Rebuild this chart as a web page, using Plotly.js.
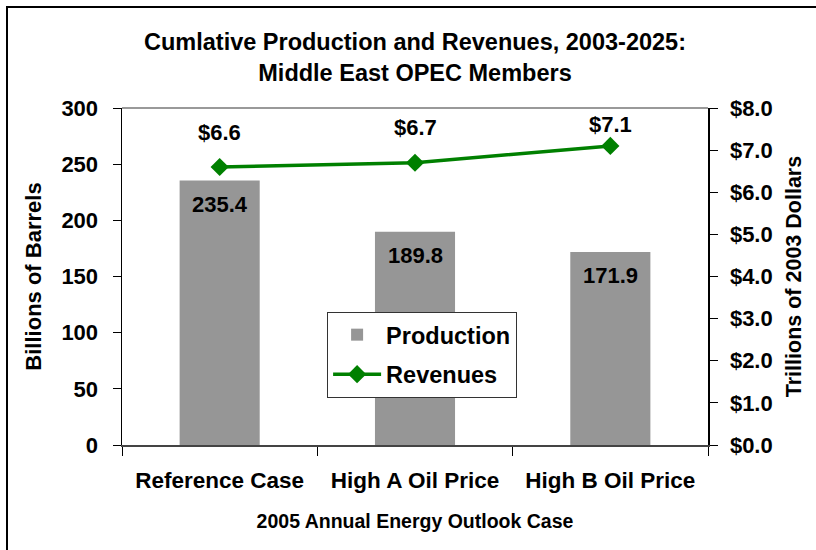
<!DOCTYPE html>
<html><head><meta charset="utf-8">
<script src="https://cdn.plot.ly/plotly-3.0.1.min.js"></script>
<style>
html,body{margin:0;padding:0;background:#fff;overflow:hidden}
#chart{width:816px;height:550px;position:absolute;left:0;top:0}
#frame{position:absolute;left:6px;top:6px;width:900px;height:900px;border:2px solid #000;pointer-events:none}
</style></head><body>
<div id="chart"></div><div id="frame"></div>
<script>
// ---- data ----
const categories = ['Reference Case', 'High A Oil Price', 'High B Oil Price'];
const production = [235.4, 189.8, 171.9];   // billions of barrels
const revenues = [6.6, 6.7, 7.1];           // trillions of 2003 dollars
const leftTicks = [0, 50, 100, 150, 200, 250, 300];
const rightTicks = [0, 1, 2, 3, 4, 5, 6, 7, 8];
const rightTickText = ['$0.0', '$1.0', '$2.0', '$3.0', '$4.0', '$5.0', '$6.0', '$7.0', '$8.0'];

// ---- styling ----
const FONT = '"Liberation Sans", Arial, sans-serif';
const revLabelLift = [34, 35, 21];
const barLabelDrop = -24;

const bold = (size) => ({family: FONT, size: size, color: '#000', weight: 'bold'});

const traces = [
  {
    type: 'bar', name: 'Production', x: categories, y: production,
    marker: {color: '#969696', line: {width: 0}}, width: 0.41,
    legendgroup: 'a', hoverinfo: 'skip'
  },
  {
    type: 'scatter', mode: 'lines+markers', name: 'Revenues', x: categories, y: revenues,
    yaxis: 'y2', line: {color: '#008000', width: 3.5},
    marker: {symbol: 'diamond', size: 14, color: '#008000'},
    legendgroup: 'b', hoverinfo: 'skip'
  }
];

const annotations = [];
categories.forEach((c, i) => {
  annotations.push({xref: 'x', yref: 'y', x: c, y: production[i], yshift: barLabelDrop,
    text: production[i].toFixed(1), showarrow: false, font: bold(22)});
  annotations.push({xref: 'x', yref: 'y2', x: c, y: revenues[i], yshift: revLabelLift[i],
    text: '$' + revenues[i].toFixed(1), showarrow: false, font: bold(22)});
});

const layout = {
  width: 816, height: 550,
  margin: {l: 122, r: 108, t: 108, b: 105, pad: 0},
  paper_bgcolor: '#fff', plot_bgcolor: '#fff',
  font: {family: FONT},
  title: {
    text: 'Cumlative Production and Revenues, 2003-2025:<br>Middle East OPEC Members',
    font: bold(23.5), x: 0.5, xref: 'paper', y: 1 - 50 / 550, yref: 'container', yanchor: 'middle'
  },
  showlegend: true,
  legend: {
    x: 0.35, y: 0.395, xanchor: 'left', yanchor: 'top',
    bgcolor: '#fff', bordercolor: '#333', borderwidth: 1,
    font: bold(23.5), traceorder: 'grouped', tracegroupgap: 6, itemwidth: 48
  },
  xaxis: {
    type: 'category', range: [-0.5, 2.5], tickson: 'boundaries',
    ticks: 'outside', ticklen: 9, tickwidth: 1, tickcolor: '#000',
    showline: true, linecolor: '#444', linewidth: 2,
    tickfont: bold(22.5), ticklabelstandoff: 14,
    title: {text: '2005 Annual Energy Outlook Case', font: bold(19.5), standoff: 22},
    showgrid: false, zeroline: false, fixedrange: true
  },
  xaxis2: {
    overlaying: 'x', anchor: 'y', side: 'bottom', range: [-0.5, 2.5],
    tickvals: [-0.5, 0.5, 1.5, 2.5], showticklabels: false,
    ticks: 'inside', ticklen: 5, tickcolor: '#000', showline: false, showgrid: false, zeroline: false
  },
  yaxis: {
    range: [0, 300], tickvals: leftTicks, ticks: 'outside', ticklen: 8, tickcolor: '#000',
    showline: true, linecolor: '#000', linewidth: 1.5,
    tickfont: bold(22), ticklabelstandoff: 10,
    title: {text: 'Billions of Barrels', font: bold(22), standoff: 13},
    showgrid: false, zeroline: false
  },
  yaxis3: {
    overlaying: 'y', anchor: 'x', side: 'left', range: [0, 300], tickvals: leftTicks,
    showticklabels: false, ticks: 'inside', ticklen: 7, tickcolor: '#000',
    showline: false, showgrid: false, zeroline: false
  },
  yaxis2: {
    overlaying: 'y', side: 'right', anchor: 'x', range: [0, 8],
    tickvals: rightTicks, ticktext: rightTickText,
    ticks: 'outside', ticklen: 8, tickcolor: '#000',
    showline: true, linecolor: '#000', linewidth: 1.5,
    tickfont: bold(22), ticklabelstandoff: 8,
    title: {text: 'Trillions of 2003 Dollars', font: bold(21.5), standoff: 14},
    showgrid: false, zeroline: false
  },
  yaxis4: {
    overlaying: 'y', anchor: 'x', side: 'right', range: [0, 8], tickvals: rightTicks,
    showticklabels: false, ticks: 'inside', ticklen: 7, tickcolor: '#000',
    showline: false, showgrid: false, zeroline: false
  },
  shapes: [
    {type: 'line', xref: 'paper', yref: 'paper', x0: 0, x1: 1, y0: 1, y1: 1,
     line: {color: '#999', width: 2}, layer: 'below'}
  ],
  annotations: annotations
};

Plotly.newPlot('chart', traces, layout, {displayModeBar: false, staticPlot: true});
</script>
</body></html>
